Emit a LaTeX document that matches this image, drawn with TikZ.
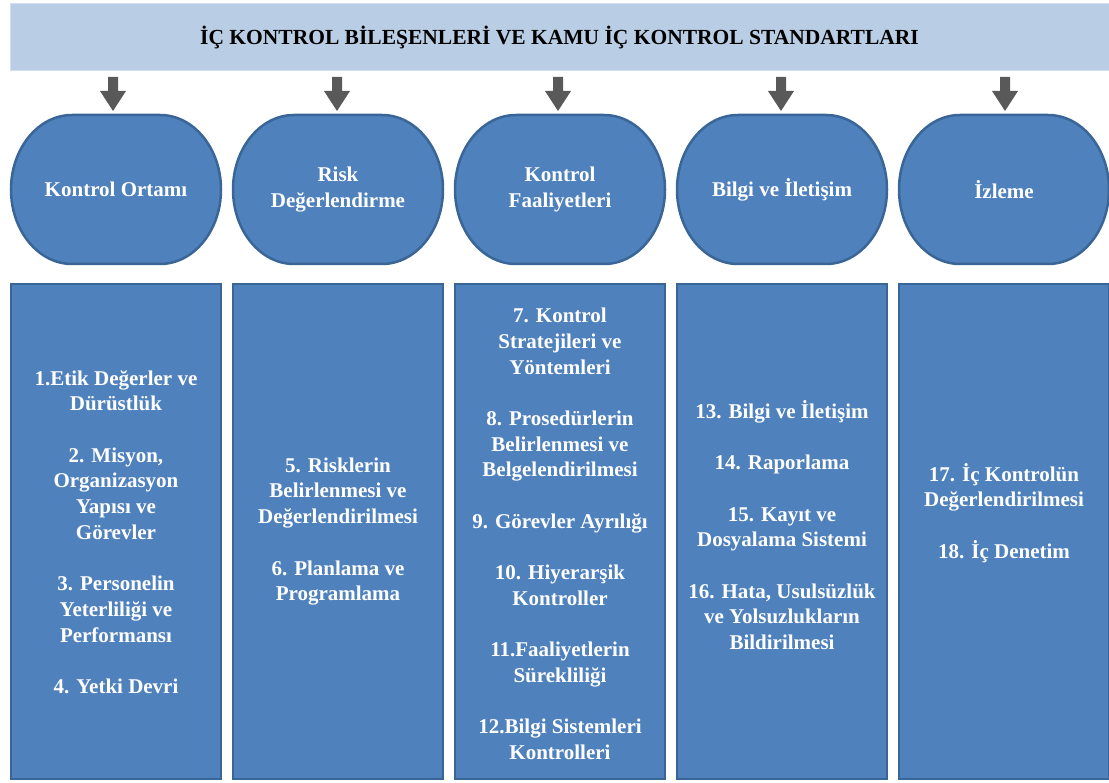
\documentclass[tikz,border=0pt]{standalone}
\usepackage{fontspec}
\setmainfont{Liberation Serif}
\definecolor{boxfill}{HTML}{4F81BD}
\definecolor{boxline}{HTML}{3A6597}
\definecolor{headfill}{HTML}{B9CDE4}
\definecolor{headline}{HTML}{D2DEEE}
\definecolor{arrowgray}{HTML}{595959}
\tikzset{
  header/.style={draw=headline, line width=1pt, fill=headfill, minimum width=1099pt, minimum height=67pt, inner sep=0pt, font=\bfseries\fontsize{21.5}{25}\selectfont, text=black},
  compshape/.style={draw=boxline, line width=2.5pt, fill=boxfill},
  comp/.style={align=center, text=white, inner sep=0pt, font=\bfseries\fontsize{21}{25.7}\selectfont},
  stdbox/.style={draw=boxline, line width=2.5pt, fill=boxfill, minimum width=210pt, minimum height=495pt, inner sep=0pt},
  stdtext/.style={align=center, text=white, inner sep=0pt, font=\bfseries\fontsize{21}{25.7}\selectfont},
  blockarrow/.style={fill=arrowgray, draw=none}
}
\newcommand{\gap}{\\[25.7pt]}
\begin{document}
\begin{tikzpicture}[x=1pt,y=-1pt]
\useasboundingbox (0,0) rectangle (1109,783);
\node[header] (head) at (559.5,37.5) {İÇ KONTROL BİLEŞENLERİ VE KAMU İÇ KONTROL STANDARTLARI};
% component shapes (stadium with elliptical ends)
\foreach \x in {116,338,560,782,1004}{
  \path[compshape] (\x-44,115) -- (\x+44,115)
     arc[start angle=-90, end angle=90, x radius=61, y radius=74.5]
     -- (\x-44,264)
     arc[start angle=90, end angle=270, x radius=61, y radius=74.5] -- cycle;
}
\node[comp] (c1) at (116,189.5) {Kontrol Ortamı};
\node[comp] (c2) at (338,189.5) {Risk\\Değerlendirme};
\node[comp] (c3) at (560,189.5) {Kontrol\\Faaliyetleri};
\node[comp] (c4) at (782,189.5) {Bilgi ve İletişim};
\node[comp] (c5) at (1004,189.5) {İzleme};
% standard boxes
\node[stdbox] (b1) at (116,531.5) {};
\node[stdbox] (b2) at (338,531.5) {};
\node[stdbox] (b3) at (560,531.5) {};
\node[stdbox] (b4) at (782,531.5) {};
\node[stdbox] (b5) at (1004,531.5) {};
% texts
\node[stdtext] (t1) at (116,532) {1.Etik Değerler ve\\Dürüstlük\gap 2. Misyon,\\Organizasyon\\Yapısı ve\\Görevler\gap 3. Personelin\\Yeterliliği ve\\Performansı\gap 4. Yetki Devri};
\node[stdtext] (t2) at (338,531.5) {5. Risklerin\\Belirlenmesi ve\\Değerlendirilmesi\gap 6. Planlama ve\\Programlama};
\node[stdtext] (t3) at (560,534) {7. Kontrol\\Stratejileri ve\\Yöntemleri\gap 8. Prosedürlerin\\Belirlenmesi ve\\Belgelendirilmesi\gap 9. Görevler Ayrılığı\gap 10. Hiyerarşik\\Kontroller\gap 11.Faaliyetlerin\\Sürekliliği\gap 12.Bilgi Sistemleri\\Kontrolleri};
\node[stdtext] (t4) at (782,525) {13. Bilgi ve İletişim\gap 14. Raporlama\gap 15. Kayıt ve\\Dosyalama Sistemi\gap 16. Hata, Usulsüzlük\\ve Yolsuzlukların\\Bildirilmesi};
\node[stdtext] (t5) at (1004,513) {17. İç Kontrolün\\Değerlendirilmesi\gap 18. İç Denetim};
% block arrows from header to components
\foreach \x in {113, 337, 558, 781, 1005}{
  \fill[blockarrow] (\x-5,77) -- (\x+5,77) -- (\x+5,91) -- (\x+13,91) -- (\x,111) -- (\x-13,91) -- (\x-5,91) -- cycle;
}
\end{tikzpicture}
\end{document}
